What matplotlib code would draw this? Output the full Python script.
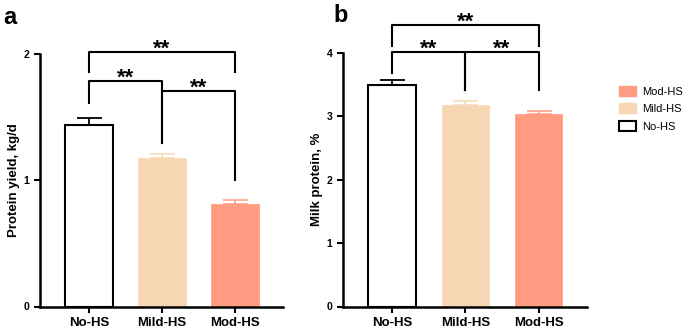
import matplotlib
matplotlib.use("Agg")
import matplotlib.pyplot as plt
from matplotlib.patches import Patch

plt.rcParams["font.family"] = ["Liberation Sans", "DejaVu Sans"]
plt.rcParams["font.weight"] = "bold"

groups = ["No-HS", "Mild-HS", "Mod-HS"]
colors = ["white", "#F7D6B4", "#FF9B80"]
edges = ["black", "#F7D6B4", "#FF9B80"]

yield_mean = [1.44, 1.175, 0.81]
yield_sem = [0.05, 0.035, 0.03]
protein_mean = [3.49, 3.18, 3.035]
protein_sem = [0.08, 0.055, 0.045]

# (left, right, bar height, left leg end, right leg end, label)
yield_brackets = [
    (0, 2, 2.016, 1.857, 1.857, "**"),
    (0, 1, 1.786, 1.611, 1.294, "**"),
    (1, 2, 1.706, 1.294, 1.0, "**"),
]
protein_brackets = [
    (0, 2, 4.44, 4.11, 4.11, "**"),
    (0, 1, 4.02, 3.68, 3.41, "**"),
    (1, 2, 4.02, 3.41, 3.41, "**"),
]

fig = plt.figure(figsize=(6.85, 3.28), dpi=100)
W, H = 685, 328


def add_axes(x0, x1, y_top, y_bot):
    return fig.add_axes([x0 / W, (H - y_bot) / H, (x1 - x0) / W, (y_bot - y_top) / H])


def draw_panel(ax, means, sems, ylim, yticks, ylabel, brackets):
    x = range(len(groups))
    for i in x:
        ax.bar(i, means[i], width=0.65, color=colors[i], edgecolor=edges[i],
               linewidth=1.5 if i == 0 else 0.5, zorder=2)
        err_col = "black" if i == 0 else edges[i]
        lw = 1.3 if i == 0 else 1.1
        ax.errorbar(i, means[i], yerr=[[0], [sems[i]]], fmt="none", ecolor=err_col,
                    elinewidth=lw, capsize=9, capthick=lw, zorder=1)
    ax.set_xlim(-0.67, 2.66)
    ax.set_ylim(*ylim)
    ax.set_yticks(yticks)
    ax.set_xticks(list(x), groups, fontsize=9.5, fontweight="bold")
    ax.tick_params(axis="y", labelsize=7.5, width=1.5, length=4)
    ax.tick_params(axis="x", width=1.5, length=4)
    for s in ["top", "right"]:
        ax.spines[s].set_visible(False)
    for s in ["left", "bottom"]:
        ax.spines[s].set_linewidth(1.8)
    ax.set_ylabel(ylabel, fontsize=9.5, fontweight="bold", labelpad=3)
    for l, r, h, ll, rl, txt in brackets:
        ax.plot([l, l, r, r], [ll, h, h, rl], color="black", lw=1.5, clip_on=False)
        ax.annotate(txt, ((l + r) / 2, h), xytext=(0, -2), textcoords="offset points",
                    ha="center", va="baseline", fontsize=16, fontweight="bold",
                    annotation_clip=False)


ax_a = add_axes(40, 283, 54, 306.5)
draw_panel(ax_a, yield_mean, yield_sem, (0, 2), [0, 1, 2], "Protein yield, kg/d",
           yield_brackets)
ax_b = add_axes(343, 587, 53, 306.5)
draw_panel(ax_b, protein_mean, protein_sem, (0, 4), [0, 1, 2, 3, 4], "Milk protein, %",
           protein_brackets)

fig.text(3 / W, 1 - 18 / H, "a", fontsize=17, fontweight="bold", va="center")
fig.text(333 / W, 1 - 15 / H, "b", fontsize=17, fontweight="bold", va="center")

handles = [
    Patch(facecolor=colors[2], edgecolor=colors[2]),
    Patch(facecolor=colors[1], edgecolor=colors[1]),
    Patch(facecolor="white", edgecolor="black", linewidth=1.5),
]
fig.legend(handles, ["Mod-HS", "Mild-HS", "No-HS"], loc="upper left",
           bbox_to_anchor=(609 / W, 1 - 76 / H), frameon=False,
           prop={"size": 8, "weight": "normal"}, handlelength=1.5, handleheight=1.0,
           labelspacing=0.6, handletextpad=0.6)

fig.savefig("out.png", dpi=100)
